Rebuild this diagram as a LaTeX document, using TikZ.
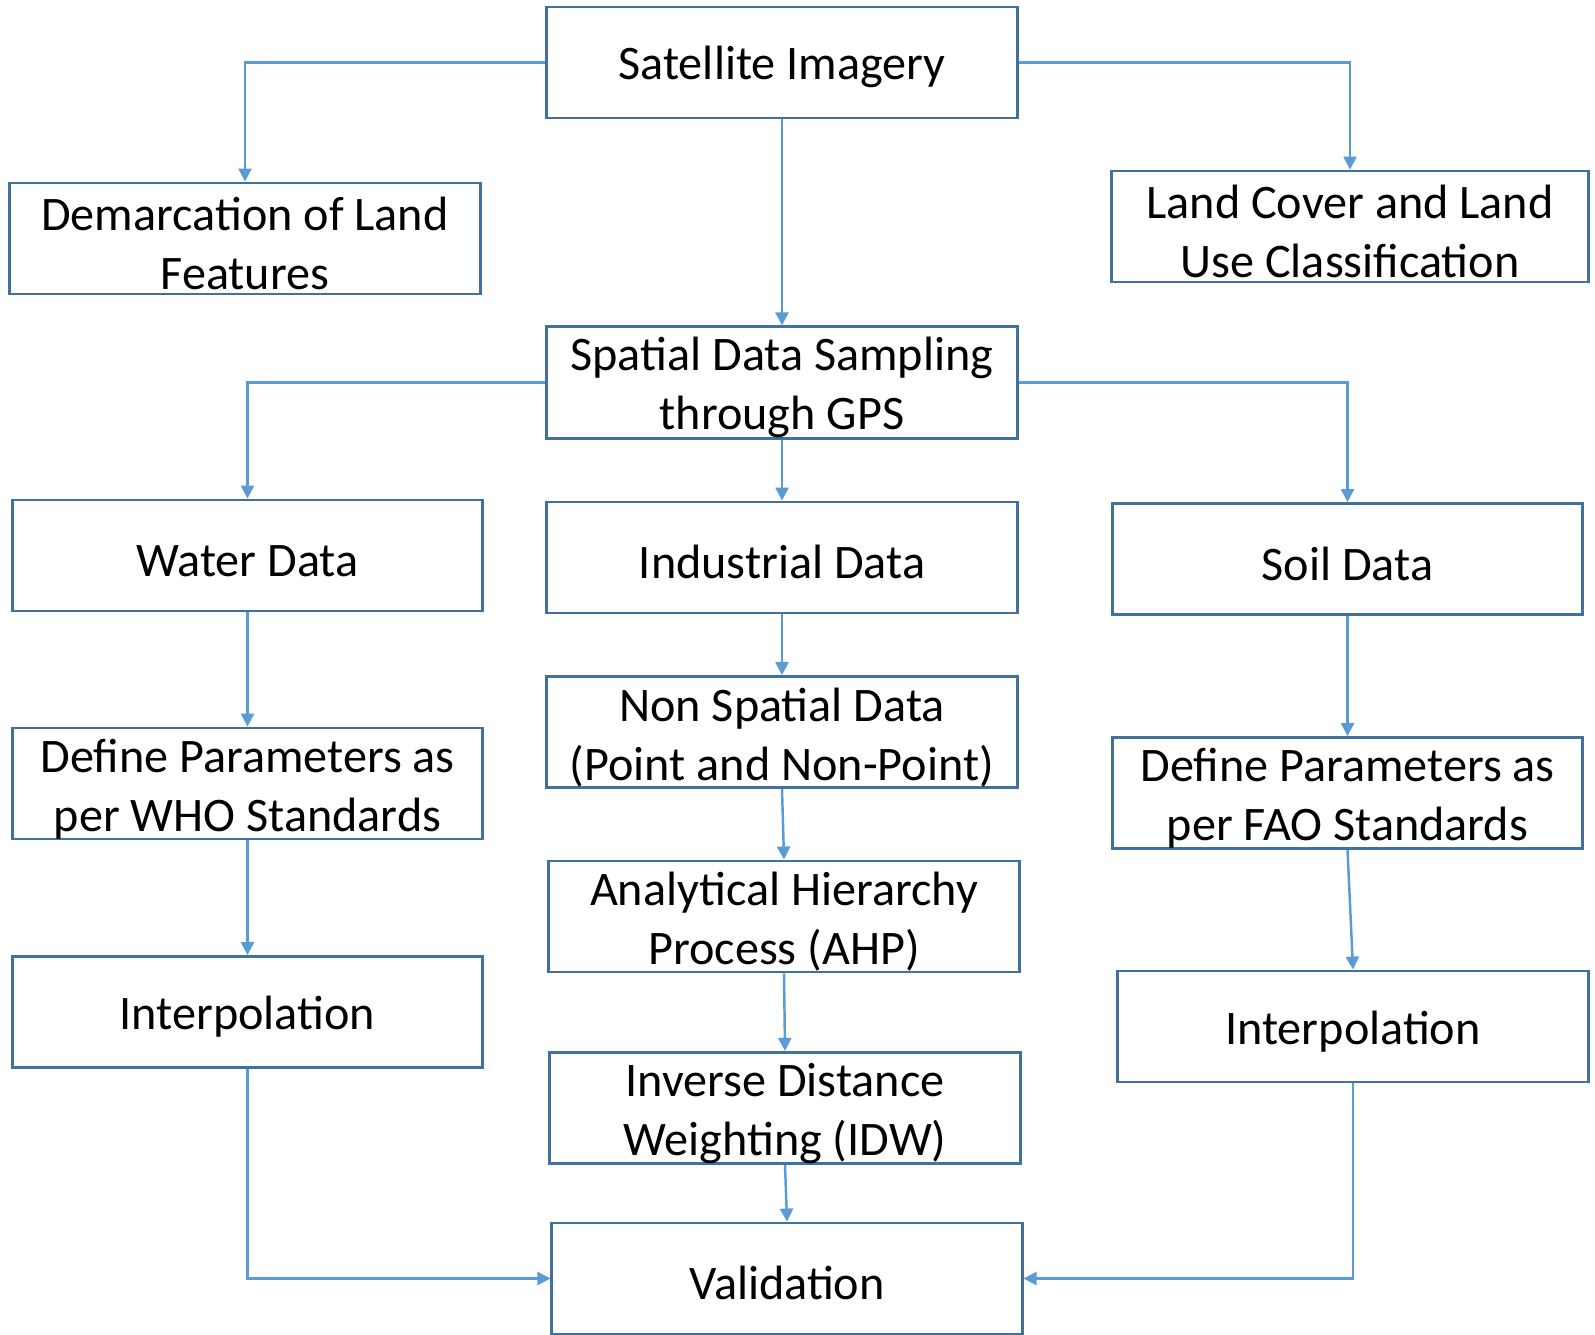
\documentclass[tikz,border=0pt]{standalone}
\usepackage{fontspec}
\setmainfont{Carlito}
\usepackage{xcolor}
\definecolor{box-edge}{RGB}{65,113,156}
\definecolor{link-blue}{RGB}{91,155,213}
\usepackage{tikz}
\usetikzlibrary{arrows.meta,positioning}

\begin{document}
\begin{tikzpicture}[
    x=0.01cm, y=-0.01cm,
    stage/.style={
        draw=box-edge,
        line width=0.8pt,
        fill=white,
        minimum width=4.7cm,
        minimum height=1.11cm,
        inner sep=0pt,
        align=center,
        font=\fontsize{13.7}{16.8}\selectfont,
        execute at begin node={\rule{0pt}{0.43cm}}
    },
    stage2/.style={
        stage,
        execute at begin node={\rule{0pt}{1.03cm}}
    },
    link/.style={
        draw=link-blue,
        line width=0.7pt,
        -{Triangle[length=0.13cm,width=0.13cm]}
    }
]

\useasboundingbox (0,0) rectangle (1595,1334);

% Top row
\node[stage] (sat) at (782,62.5) {Satellite Imagery};
\node[stage2] (demarc) at (245,238.5) {Demarcation of Land\\Features};
\node[stage2, minimum width=4.76cm] (landcov) at (1350,226.5) {Land Cover and Land\\Use Classification};

% Sampling
\node[stage2] (spatial) at (782,382.5) {Spatial Data Sampling\\through GPS};

% Left column: water
\node[stage] (water) at (247.5,555.5) {Water Data};
\node[stage2] (who) at (247.5,783.5) {Define Parameters as\\per WHO Standards};
\node[stage] (interpL) at (247.5,1012) {Interpolation};

% Middle column: industrial
\node[stage] (industrial) at (782,557.5) {Industrial Data};
\node[stage2] (nonspatial) at (782,732) {Non Spatial Data\\(Point and Non-Point)};
\node[stage2] (ahp) at (784,916.5) {Analytical Hierarchy\\Process (AHP)};
\node[stage2] (idw) at (785,1108) {Inverse Distance\\Weighting (IDW)};
\node[stage] (valid) at (787,1278.5) {Validation};

% Right column: soil
\node[stage] (soil) at (1347.5,559) {Soil Data};
\node[stage2] (fao) at (1347.5,793) {Define Parameters as\\per FAO Standards};
\node[stage] (interpR) at (1353,1026.5) {Interpolation};

% Connectors
\draw[link] (sat.west) -| (demarc.north);
\draw[link] (sat.east) -| (landcov.north);
\draw[link] (sat.south) -- (spatial.north);

\draw[link] (spatial.west) -| (water.north);
\draw[link] (spatial.south) -- (industrial.north);
\draw[link] (spatial.east) -| (soil.north);

\draw[link] (water.south) -- (who.north);
\draw[link] (who.south) -- (interpL.north);
\draw[link] (interpL.south) |- (valid.west);

\draw[link] (industrial.south) -- (nonspatial.north);
\draw[link] (nonspatial.south) -- (ahp.north);
\draw[link] (ahp.south) -- (idw.north);
\draw[link] (idw.south) -- (valid.north);

\draw[link] (soil.south) -- (fao.north);
\draw[link] (fao.south) -- (interpR.north);
\draw[link] (interpR.south) |- (valid.east);

\end{tikzpicture}
\end{document}
